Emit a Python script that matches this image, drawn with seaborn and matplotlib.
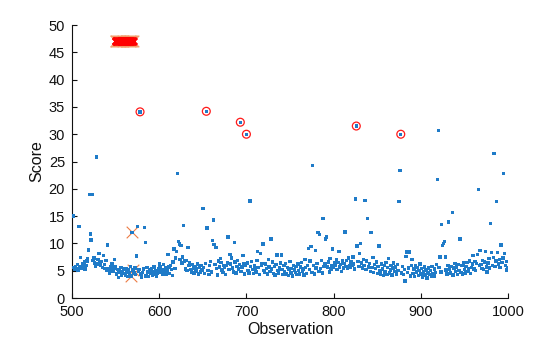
import numpy as np
import pandas as pd
import matplotlib
matplotlib.use("Agg")
import matplotlib.pyplot as plt
import seaborn as sns

# Observation numbers and their scores
observations = list(range(501, 1001))
scores = [
    15.0, 5.6, 5.2, 5.8, 5.4, 6.1, 5.0, 13.1, 5.7, 7.4,
    5.5, 6.3, 5.9, 6.6, 5.3, 6.0, 6.8, 7.2, 8.8, 19.0,
    11.7, 10.6, 19.0, 6.9, 7.3, 6.4, 5.8, 25.8, 6.2, 7.0,
    8.2, 6.5, 5.9, 6.7, 5.6, 7.8, 6.1, 5.4, 6.9, 5.0,
    9.7, 5.3, 4.6, 5.8, 5.1, 6.2, 4.9, 5.5, 7.1, 5.7,
    4.4, 5.2, 3.8, 5.0, 4.7, 5.6, 4.2, 4.9, 5.3, 4.5,
    4.1, 5.4, 4.8, 3.9, 5.1, 4.6, 5.8, 4.0, 12.0, 5.1,
    4.6, 5.5, 4.3, 7.7, 13.1, 4.9, 5.2, 34.1, 4.4, 3.8,
    4.7, 5.3, 12.9, 10.2, 4.0, 5.6, 4.8, 3.9, 5.1, 4.5,
    5.4, 4.2, 4.9, 5.7, 4.4, 5.0, 3.9, 4.6, 5.3, 6.3,
    5.8, 4.7, 5.2, 4.3, 6.1, 4.9, 5.5, 4.4, 5.0, 8.0,
    5.7, 4.5, 6.0, 5.2, 4.1, 6.6, 9.0, 5.4, 7.3, 8.5,
    22.8, 10.4, 9.9, 7.1, 9.6, 6.4, 7.5, 13.3, 6.8, 5.3,
    6.9, 5.0, 9.3, 5.9, 6.4, 5.2, 4.8, 6.1, 5.5, 4.6,
    5.8, 4.9, 5.3, 6.2, 4.4, 5.7, 4.8, 6.0, 5.1, 16.4,
    5.6, 4.5, 6.3, 34.2, 12.8, 5.0, 4.3, 5.9, 6.7, 4.8,
    10.5, 14.3, 9.8, 6.1, 9.3, 5.4, 4.2, 6.8, 5.7, 7.2,
    6.5, 5.1, 4.7, 6.0, 5.6, 4.3, 5.9, 6.4, 11.2, 5.2,
    8.0, 6.2, 7.3, 5.5, 4.8, 10.2, 6.6, 4.6, 5.8, 6.9,
    5.3, 6.1, 32.2, 4.9, 5.7, 7.8, 6.3, 4.4, 5.9, 30.0,
    6.4, 5.0, 4.6, 17.8, 5.8, 6.7, 5.2, 4.5, 6.0, 5.5,
    4.8, 6.9, 8.5, 5.6, 4.3, 8.1, 5.9, 6.3, 9.9, 5.0,
    4.7, 6.2, 5.4, 4.4, 7.0, 5.7, 4.9, 10.8, 5.3, 6.6,
    4.5, 5.8, 4.2, 6.1, 7.9, 5.0, 4.6, 5.5, 6.4, 7.9,
    5.2, 4.3, 5.9, 4.8, 6.3, 4.4, 5.6, 4.1, 5.3, 6.7,
    4.6, 5.4, 4.0, 6.0, 5.1, 4.7, 5.8, 4.3, 6.2, 5.0,
    4.4, 5.7, 6.5, 4.9, 5.3, 4.2, 7.1, 5.6, 4.5, 6.0,
    9.1, 5.2, 6.8, 9.4, 4.7, 24.3, 5.9, 4.4, 8.7, 5.5,
    6.3, 12.0, 4.9, 11.6, 5.4, 6.9, 4.6, 14.6, 5.8, 6.2,
    10.8, 11.2, 5.7, 6.6, 4.8, 7.2, 5.3, 6.0, 9.0, 5.6,
    6.4, 5.9, 7.0, 5.2, 6.5, 8.5, 5.7, 6.1, 4.9, 6.8,
    5.5, 6.3, 12.1, 5.8, 6.9, 5.4, 7.3, 6.0, 5.6, 6.6,
    5.9, 7.5, 6.2, 5.3, 18.1, 31.5, 9.5, 6.7, 5.8, 8.1,
    10.0, 6.4, 5.5, 7.1, 6.0, 17.9, 5.2, 6.8, 14.6, 5.7,
    6.3, 4.9, 12.0, 5.6, 7.4, 4.7, 6.1, 5.4, 6.6, 4.5,
    5.8, 9.5, 5.0, 4.4, 6.2, 5.3, 4.1, 5.9, 4.8, 6.5,
    4.3, 5.6, 7.2, 4.6, 5.1, 6.0, 4.2, 5.5, 6.4, 4.9,
    5.7, 4.4, 6.1, 5.0, 17.7, 23.4, 30.0, 4.6, 5.8, 4.3,
    5.2, 3.1, 7.6, 8.4, 4.7, 5.5, 8.4, 4.0, 5.9, 7.1,
    4.5, 5.3, 3.9, 6.0, 4.8, 5.6, 4.1, 5.0, 6.2, 4.4,
    5.4, 3.8, 4.9, 5.7, 4.2, 5.1, 3.7, 4.6, 5.5, 4.3,
    5.0, 3.9, 5.8, 4.5, 4.0, 5.3, 4.7, 6.1, 21.7, 30.7,
    5.6, 7.5, 4.8, 13.5, 9.6, 10.0, 10.4, 7.5, 5.1, 4.4,
    6.0, 13.9, 5.3, 4.6, 5.8, 15.7, 4.2, 5.5, 6.3, 4.9,
    5.7, 4.3, 6.1, 5.0, 10.8, 4.7, 5.9, 4.4, 6.4, 5.2,
    4.6, 5.8, 6.5, 4.9, 5.4, 6.8, 4.5, 5.6, 6.2, 7.8,
    5.3, 6.7, 5.0, 6.3, 8.0, 19.9, 5.9, 8.7, 6.1, 5.4,
    6.9, 5.2, 6.6, 8.5, 5.7, 4.8, 6.4, 7.2, 5.5, 13.7,
    8.3, 6.0, 7.4, 26.5, 5.8, 6.8, 17.7, 8.3, 6.2, 7.0,
    5.6, 9.7, 6.5, 7.3, 22.8, 8.1, 5.9, 6.7, 5.1, 5.6,
]

# Flagged outliers (circled) and the marked observations (crosses)
circled_obs = [578, 654, 693, 700, 826, 877]
crossed_obs = [568, 569, 570]
# Observation window drawn as a row of crosses near the top
window_obs = list(range(550, 571))
window_level = 47

df = pd.DataFrame({"Observation": observations, "Score": scores})
circ = df[df["Observation"].isin(circled_obs)]
cross = df[df["Observation"].isin(crossed_obs)]
win = pd.DataFrame({"Observation": window_obs,
                    "Score": [window_level] * len(window_obs)})

sns.set_style("white")
plt.rcParams["font.family"] = ["Liberation Sans", "DejaVu Sans"]

fig = plt.figure(figsize=(5.6, 3.37), dpi=100)
ax = fig.add_axes([0.1286, 0.1157, 0.7786, 0.810])

blue = "#1F7BC8"
sns.scatterplot(data=df, x="Observation", y="Score", ax=ax, marker="s",
                s=6, color=blue, edgecolor="none", linewidth=0, zorder=3)

sns.scatterplot(data=circ, x="Observation", y="Score", ax=ax, marker="o",
                s=32, facecolor="none", edgecolor="#FF1A1A", linewidth=0.9,
                zorder=4)

sns.scatterplot(data=cross, x="Observation", y="Score", ax=ax, marker="x",
                s=70, color="#EC7C44", linewidth=0.8, zorder=2)

# window band: soft orange crosses under bold red crosses
sns.scatterplot(data=win, x="Observation", y="Score", ax=ax, marker="x",
                s=70, color="#F2A070", linewidth=0.9, zorder=4)
sns.scatterplot(data=win, x="Observation", y="Score", ax=ax, marker="x",
                s=26, color="#FF0000", linewidth=2.2, zorder=5)

ax.set_xlim(500, 1000)
ax.set_ylim(0, 50)
ax.set_xticks([500, 600, 700, 800, 900, 1000])
ax.set_yticks(list(range(0, 51, 5)))
ax.tick_params(axis="both", which="major", bottom=True, left=True,
               direction="in", length=3.5, width=0.8, labelsize=10.5,
               colors="#111111", pad=5)
ax.set_xlabel("Observation", fontsize=11.5, labelpad=2, color="#111111")
ax.set_ylabel("Score", fontsize=11.5, labelpad=3, color="#111111")

for side in ("top", "right"):
    ax.spines[side].set_visible(False)
for side in ("left", "bottom"):
    ax.spines[side].set_color("#111111")
    ax.spines[side].set_linewidth(0.8)

fig.savefig("out.png", dpi=100)
